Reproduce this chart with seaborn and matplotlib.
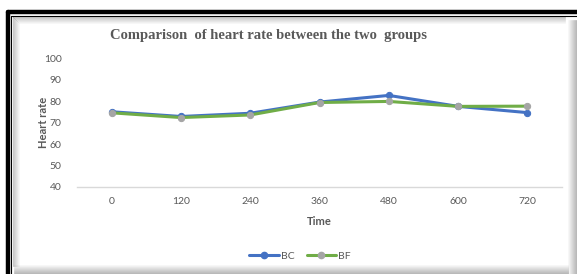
import pandas as pd
import matplotlib
matplotlib.use("Agg")
import matplotlib.pyplot as plt
from matplotlib.lines import Line2D
import seaborn as sns

# ── Data ─────────────────────────────────────────────────
times = ["0", "120", "240", "360", "480", "600", "720"]
bc_rate = [75.0, 72.8, 74.3, 79.5, 82.6, 77.5, 74.6]
bf_rate = [74.5, 72.3, 73.5, 79.3, 79.8, 77.5, 77.6]

BLUE = "#4472C4"
GREEN = "#70AD47"
GREY_MK = "#A5A5A5"
TXT = "#595959"

sns.set_theme(style="white")
plt.rcParams["font.family"] = ["Lato", "DejaVu Sans"]

df_bc = pd.DataFrame({"Time": times, "Heart rate": bc_rate})
df_bf = pd.DataFrame({"Time": times, "Heart rate": bf_rate})

fig = plt.figure(figsize=(5.77, 2.74), dpi=100)
ax = fig.add_axes([77 / 577, 1 - 187 / 274, (562 - 77) / 577, (187 - 58) / 274])

sns.lineplot(data=df_bc, x="Time", y="Heart rate", ax=ax, color=BLUE, lw=2.2,
             marker="o", markersize=4.5, markerfacecolor=BLUE, markeredgecolor=BLUE,
             label="BC", legend=False)
sns.lineplot(data=df_bf, x="Time", y="Heart rate", ax=ax, color=GREEN, lw=2.2,
             marker="o", markersize=4.5, markerfacecolor=GREY_MK, markeredgecolor=GREY_MK,
             label="BF", legend=False)

ax.set_xlim(-0.5, len(times) - 0.5)
ax.set_ylim(40, 100)
ax.set_yticks(range(40, 101, 10))
for s in ["top", "right", "left"]:
    ax.spines[s].set_visible(False)
ax.spines["bottom"].set_color("#D9D9D9")
ax.spines["bottom"].set_linewidth(1)
ax.tick_params(axis="both", length=0, labelsize=7.5, labelcolor=TXT)
ax.tick_params(axis="x", pad=7.5)
ax.tick_params(axis="y", pad=11)
ax.set_xlabel("Time", fontsize=8, fontweight="bold", color=TXT, labelpad=7)
ax.set_ylabel("Heart rate", fontsize=8, fontweight="bold", color=TXT, labelpad=-3.5)

fig.text(268 / 577, 1 - 35 / 274, "Comparison  of heart rate between the two  groups",
         ha="center", va="center", fontsize=10.5, fontweight="bold", color=TXT,
         family=["Liberation Serif", "DejaVu Serif"])

handles = [Line2D([], [], color=BLUE, lw=2.2, marker="o", markersize=4.5,
                  markerfacecolor=BLUE, markeredgecolor=BLUE),
           Line2D([], [], color=GREEN, lw=2.2, marker="o", markersize=4.5,
                  markerfacecolor=GREY_MK, markeredgecolor=GREY_MK)]
fig.legend(handles, ["BC", "BF"], loc="center", bbox_to_anchor=(300 / 577, 1 - 256 / 274),
           ncol=2, frameon=False, fontsize=7.5, labelcolor=TXT, handlelength=2.8,
           columnspacing=1.2, handletextpad=0.2)

# ── Frame with shadow ────────────────────────────────────
W, H = 577, 274
def fl(x0, y0, x1, y1, **kw):
    fig.add_artist(Line2D([x0 / W, x1 / W], [1 - y0 / H, 1 - y1 / H],
                          transform=fig.transFigure, **kw))

fl(7.5, 12, W, 12, color="black", lw=3.2)
fl(7.5, 12, 7.5, H, color="black", lw=3.2)
fl(11.5, 16, W, 16, color="black", lw=0.8)
fl(11.5, 16, 11.5, H, color="black", lw=0.8)
# inner shadow along top / left
for i in range(7):
    a = 0.35 * (1 - i / 7)
    fl(12.5 + i, 17 + i, W - 12, 17 + i, color="black", lw=0.75, alpha=a * 0.6)
    fl(12.5 + i, 17 + i, 12.5 + i, H - 8, color="black", lw=0.75, alpha=a * 0.6)
# outer shadow right / bottom
for i in range(9):
    a = 0.45 * (i + 1) / 9
    fl(W - 9 + i, 20, W - 9 + i, H, color="black", lw=0.75, alpha=a * 0.6)
    fl(14, H - 9 + i, W - 9, H - 9 + i, color="black", lw=0.75, alpha=a * 0.6)

fig.savefig("out.png", dpi=100)
plt.close(fig)
